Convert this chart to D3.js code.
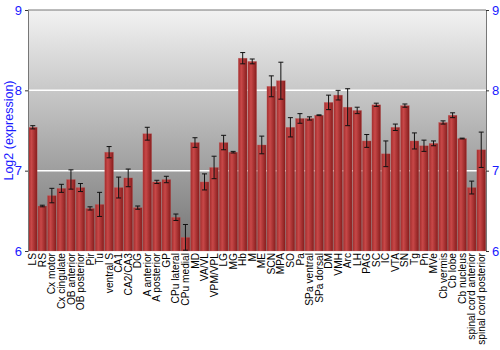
<!DOCTYPE html>
<html lang="en">
<head>
    <meta charset="UTF-8">
    <title>Log2 expression by region</title>
    <style>
        body { margin: 0; background: #fff; }
        text { font-family: Arial, "Liberation Sans", sans-serif; }
    </style>
</head>
<body>
    <div id="chart"></div>
    <script src="https://d3js.org/d3.v7.min.js"></script>
    <script>

        // brain regions, in plotting order
        var regions = ["LS", "RS", "Cx motor", "Cx cingulate", "OB anterior", "OB posterior", "Pir", "Tu",
            "ventral S", "CA1", "CA2/CA3", "DG", "A anterior", "A posterior", "GP", "CPu lateral",
            "CPu medial", "MD", "VA/VL", "VPM/VPL", "LG", "MG", "Hb", "M", "ME", "SCN", "MPA", "SO",
            "Pa", "SPa ventral", "SPa dorsal", "DM", "VMH", "Arc", "LH", "PAG", "SC", "IC", "VTA",
            "SN", "Tg", "Pn", "MVe", "Cb vermis", "Cb lobe", "Cb nucleus", "spinal cord anterior",
            "spinal cord posterior"];

        // mean log2 expression
        var means = [7.54, 6.56, 6.69, 6.78, 6.89, 6.79, 6.53, 6.58,
            7.23, 6.79, 6.91, 6.54, 7.46, 6.86, 6.89, 6.42,
            6.17, 7.35, 6.86, 7.04, 7.35, 7.23, 8.40, 8.36, 7.32, 8.05, 8.12, 7.54,
            7.65, 7.65, 7.69, 7.85, 7.94, 7.79, 7.75, 7.37, 7.82, 7.21, 7.54,
            7.81, 7.37, 7.31, 7.34, 7.60, 7.69, 7.40, 6.79,
            7.26];

        // error (half-length of the bar)
        var errors = [0.02, 0.01, 0.09, 0.05, 0.12, 0.05, 0.02, 0.15,
            0.07, 0.13, 0.11, 0.02, 0.08, 0.02, 0.04, 0.04,
            0.16, 0.06, 0.10, 0.14, 0.09, 0.01, 0.07, 0.03, 0.11, 0.13, 0.23, 0.12,
            0.06, 0.02, 0.005, 0.09, 0.06, 0.23, 0.04, 0.08, 0.02, 0.16, 0.04,
            0.02, 0.10, 0.07, 0.03, 0.02, 0.03, 0.005, 0.08,
            0.22];

        var yTicks = [6, 7, 8, 9];

        var margin = {top: 10, right: 14, bottom: 99, left: 28},
            width = 500 - margin.left - margin.right,
            height = 350 - margin.top - margin.bottom;

        var data = regions.map(function(r, i) {
            return {region: r, mean: means[i], err: errors[i]};
        });

        var svg = d3.select("#chart").append("svg")
            .attr("width", 500)
            .attr("height", 350);

        var defs = svg.append("defs");

        var bg = defs.append("linearGradient")
            .attr("id", "bg")
            .attr("x1", 0).attr("y1", 0).attr("x2", 0).attr("y2", 1);
        bg.append("stop").attr("offset", "0%").attr("stop-color", "#f2f2f2");
        bg.append("stop").attr("offset", "100%").attr("stop-color", "#747474");

        var barGrad = defs.append("linearGradient")
            .attr("id", "bar")
            .attr("x1", 0).attr("y1", 0).attr("x2", 1).attr("y2", 0);
        barGrad.append("stop").attr("offset", "0%").attr("stop-color", "#a32c2c");
        barGrad.append("stop").attr("offset", "35%").attr("stop-color", "#c84848");
        barGrad.append("stop").attr("offset", "100%").attr("stop-color", "#861c1c");

        var g = svg.append("g")
            .attr("transform", "translate(" + margin.left + "," + margin.top + ")");

        var x = d3.scaleBand()
            .domain(regions)
            .range([0, width])
            .paddingInner(0.08)
            .paddingOuter(0.04);

        var y = d3.scaleLinear()
            .domain([6, 9])
            .range([height, 0]);

        g.append("rect")
            .attr("width", width)
            .attr("height", height)
            .attr("fill", "url(#bg)");

        // white grid lines
        g.selectAll(".grid")
            .data([7, 8])
            .enter()
            .append("line")
            .attr("x1", 0).attr("x2", width)
            .attr("y1", function(d) { return y(d); })
            .attr("y2", function(d) { return y(d); })
            .attr("stroke", "#fff")
            .attr("stroke-width", 1.5);

        g.append("line")
            .attr("x1", 0).attr("x2", width)
            .attr("y1", 0).attr("y2", 0)
            .attr("stroke", "#777");

        g.selectAll(".bar")
            .data(data)
            .enter()
            .append("rect")
            .attr("x", function(d) { return x(d.region); })
            .attr("y", function(d) { return y(d.mean); })
            .attr("width", x.bandwidth())
            .attr("height", function(d) { return height - y(d.mean); })
            .attr("fill", "url(#bar)")
            .attr("stroke", "#c86a6a")
            .attr("stroke-opacity", 0.5)
            .attr("stroke-width", 0.5);

        // error bars
        var eb = g.selectAll(".err")
            .data(data)
            .enter()
            .append("g")
            .attr("transform", function(d) { return "translate(" + (x(d.region) + x.bandwidth() / 2) + ",0)"; })
            .attr("stroke", "#111")
            .attr("stroke-width", 1);

        eb.append("line")
            .attr("y1", function(d) { return y(d.mean + d.err); })
            .attr("y2", function(d) { return y(d.mean - d.err); });
        eb.append("line")
            .attr("x1", -2.5).attr("x2", 2.5)
            .attr("y1", function(d) { return y(d.mean + d.err); })
            .attr("y2", function(d) { return y(d.mean + d.err); });
        eb.append("line")
            .attr("x1", -2.5).attr("x2", 2.5)
            .attr("y1", function(d) { return y(d.mean - d.err); })
            .attr("y2", function(d) { return y(d.mean - d.err); });

        // axes
        var leftAxis = g.append("g")
            .call(d3.axisLeft(y).tickValues(yTicks).tickSize(3).tickFormat(d3.format("d")));
        var rightAxis = g.append("g")
            .attr("transform", "translate(" + width + ",0)")
            .call(d3.axisRight(y).tickValues(yTicks).tickSize(3).tickFormat(d3.format("d")));

        [leftAxis, rightAxis].forEach(function(a) {
            a.select(".domain").attr("stroke", "#777");
            a.selectAll(".tick line").attr("stroke", "#333");
            a.selectAll(".tick text")
                .attr("fill", "#1a1aff")
                .style("font-size", "13px")
                .style("font-family", "Arial, 'Liberation Sans', sans-serif");
        });

        var xAxis = g.append("g")
            .attr("transform", "translate(0," + height + ")")
            .call(d3.axisBottom(x).tickSize(0));
        xAxis.select(".domain").remove();
        xAxis.selectAll(".tick text")
            .attr("transform", "rotate(-90)")
            .attr("x", -2)
            .attr("y", 0)
            .attr("dy", "0.35em")
            .attr("text-anchor", "end")
            .attr("fill", "#000")
            .style("font-size", "10.2px")
            .style("font-family", "Arial, 'Liberation Sans', sans-serif");

        svg.append("text")
            .attr("transform", "translate(13," + (margin.top + height / 2) + ") rotate(-90)")
            .attr("text-anchor", "middle")
            .attr("fill", "#1a1aff")
            .style("font-size", "12.5px")
            .text("Log2 (expression)");

    </script>
</body>
</html>
